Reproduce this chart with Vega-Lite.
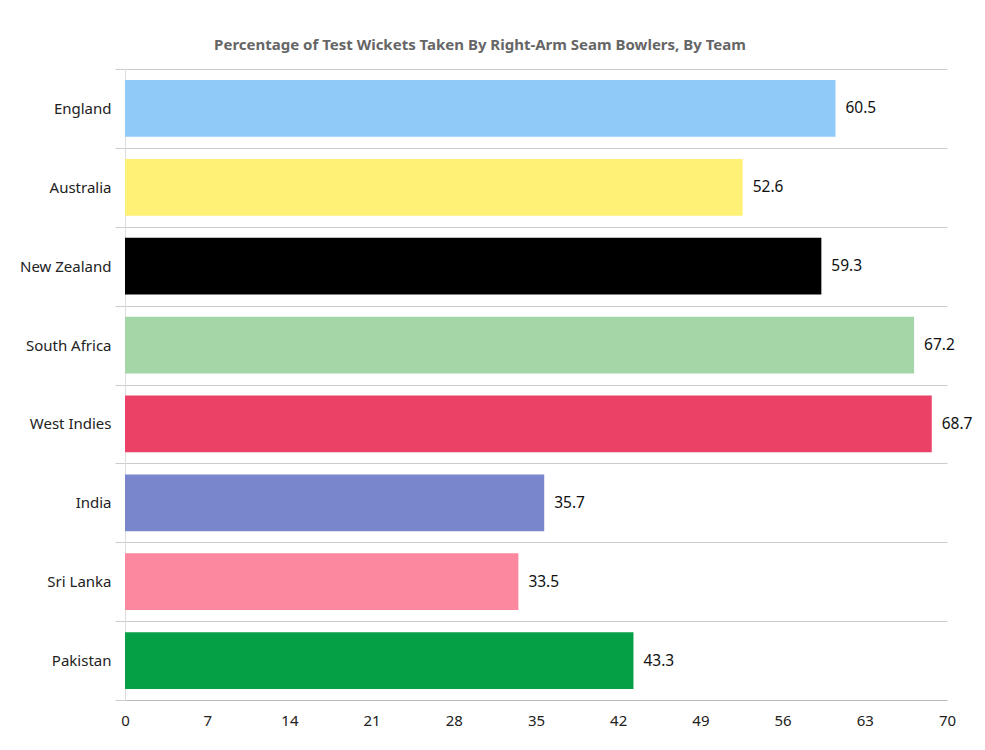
{
  "$schema": "https://vega.github.io/schema/vega-lite/v6.json",
  "description": "Percentage of Test wickets taken by right-arm seam bowlers, by team",
  "width": 822,
  "height": 631,
  "autosize": {"type": "none"},
  "padding": {"left": 125, "top": 69, "right": 38, "bottom": 50},
  "background": "white",
  "config": {
    "font": "Noto Sans",
    "view": {"stroke": null}
  },
  "title": {
    "text": "Percentage of Test Wickets Taken By Right-Arm Seam Bowlers, By Team",
    "fontSize": 15,
    "fontWeight": "bold",
    "color": "#666666",
    "anchor": "middle",
    "dx": -56,
    "offset": 9
  },
  "data": {
    "values": [
      {"team": "England", "pct": 60.5},
      {"team": "Australia", "pct": 52.6},
      {"team": "New Zealand", "pct": 59.3},
      {"team": "South Africa", "pct": 67.2},
      {"team": "West Indies", "pct": 68.7},
      {"team": "India", "pct": 35.7},
      {"team": "Sri Lanka", "pct": 33.5},
      {"team": "Pakistan", "pct": 43.3}
    ]
  },
  "encoding": {
    "y": {
      "field": "team",
      "type": "nominal",
      "sort": null,
      "scale": {"paddingInner": 0, "paddingOuter": 0},
      "axis": {
        "title": null,
        "tickBand": "extent",
        "grid": true,
        "gridColor": "#cccccc",
        "tickColor": "#cccccc",
        "tickSize": 10,
        "domainColor": "#dddddd",
        "labelFontSize": 15,
        "labelColor": "#222222",
        "labelPadding": 4
      }
    },
    "x": {
      "field": "pct",
      "type": "quantitative",
      "scale": {"domain": [0, 70], "nice": false},
      "axis": {
        "title": null,
        "values": [0, 7, 14, 21, 28, 35, 42, 49, 56, 63, 70],
        "grid": false,
        "ticks": false,
        "labelFlush": false,
        "domainColor": "#bbbbbb",
        "labelFontSize": 15,
        "labelColor": "#222222",
        "labelPadding": 13
      }
    }
  },
  "layer": [
    {
      "mark": {"type": "bar", "height": {"band": 0.72}},
      "encoding": {
        "color": {
          "field": "team",
          "type": "nominal",
          "legend": null,
          "scale": {
            "domain": ["England", "Australia", "New Zealand", "South Africa", "West Indies", "India", "Sri Lanka", "Pakistan"],
            "range": ["#90CAF9", "#FFF176", "#000000", "#A5D6A7", "#EC4166", "#7986CB", "#FB889E", "#05A045"]
          }
        }
      }
    },
    {
      "mark": {"type": "text", "align": "left", "baseline": "middle", "dx": 10, "fontSize": 15.5, "color": "#111111"},
      "encoding": {
        "text": {"field": "pct", "type": "quantitative", "format": ".1f"}
      }
    }
  ]
}
